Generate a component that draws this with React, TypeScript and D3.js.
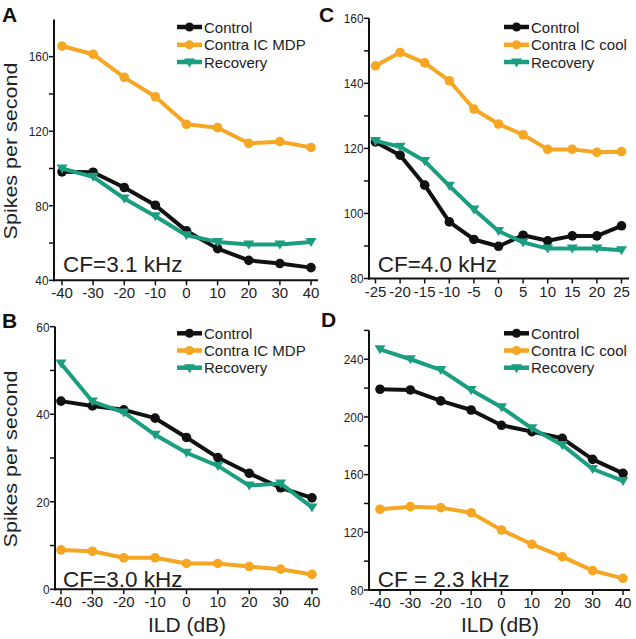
import React from "react";
import * as d3 from "d3";

// ---------- DATA ----------
const ild40 = [-40, -30, -20, -10, 0, 10, 20, 30, 40];
const ild25 = [-25, -20, -15, -10, -5, 0, 5, 10, 15, 20, 25];

// Panel A (CF=3.1 kHz)
const controlA = [98.2, 98, 89.8, 80.3, 66.5, 57, 50.7, 49, 46.8];
const mdpA = [165.7, 161.3, 148.9, 138.5, 123.7, 121.9, 113.5, 114.4, 111.3];
const recoveryA = [100, 95.5, 83.9, 74.4, 64.2, 60.6, 59.2, 59.2, 60.6];

// Panel B (CF=3.0 kHz)
const controlB = [43.0, 41.9, 41.0, 39.1, 34.7, 30.1, 26.5, 23.2, 20.9];
const mdpB = [9.0, 8.7, 7.2, 7.2, 5.9, 5.9, 5.2, 4.6, 3.4];
const recoveryB = [51.6, 42.9, 40.4, 35.3, 31.2, 28.2, 23.7, 24.2, 18.7];

// Panel C (CF=4.0 kHz)
const controlC = [122, 117.9, 108.7, 97.4, 92, 89.9, 93.3, 91.6, 93.1, 93.1, 96.2];
const coolC = [145.4, 149.5, 146.3, 140.8, 132.1, 127.5, 124.2, 119.7, 119.7, 118.8, 119];
const recoveryC = [122.3, 120.5, 116.1, 108.5, 101.2, 94.6, 91.1, 89.2, 89.2, 89.2, 88.7];

// Panel D (CF = 2.3 kHz)
const controlD = [219.2, 218.7, 211.1, 204.8, 194.2, 189.8, 185.2, 170.6, 160.9];
const coolD = [136, 137.8, 137.1, 133.6, 121.6, 111.7, 103.1, 93.4, 88.1];
const recoveryD = [246.9, 240, 232.6, 218.7, 206.7, 192.1, 180.6, 163.9, 155.6];

const seriesNamesMDP = ["Control", "Contra IC MDP", "Recovery"];
const seriesNamesCool = ["Control", "Contra IC cool", "Recovery"];

const yTicksA = [40, 80, 120, 160];
const yMinorA = [60, 100, 140];
const yTicksB = [0, 20, 40, 60];
const yMinorB = [10, 30, 50];
const yTicksC = [80, 100, 120, 140, 160];
const yMinorC = [90, 110, 130, 150];
const yTicksD = [80, 120, 160, 200, 240];
const yMinorD = [100, 140, 180, 220, 260];

// ---------- STYLE ----------
const FONT = "'Liberation Sans', Arial, Helvetica, sans-serif";
const BLACK = "#111111";
const ORANGE = "#F5A623";
const GREEN = "#1B9E80";

type PanelProps = {
  letter: string;
  letterPos: [number, number];
  xs: number[];
  xDomain: [number, number];
  xRange: [number, number];
  yDomain: [number, number];
  yRange: [number, number];
  yTicks: number[];
  yMinor: number[];
  axisX: number;
  axisXEnd: number;
  control: number[];
  treat: number[];
  recovery: number[];
  names: string[];
  cfText: string;
  cfPos: [number, number];
  legend: { x0: number; x1: number; tx: number; ys: number[] };
  ylabel?: [number, number];
  xlabel?: [number, number];
};

function Triangle({ x, y, color }: { x: number; y: number; color: string }) {
  const p = `M${x - 5.5},${y - 4}L${x + 5.5},${y - 4}L${x},${y + 5}Z`;
  return <path d={p} fill={color} />;
}

function Panel(p: PanelProps) {
  const x = d3.scaleLinear().domain(p.xDomain).range(p.xRange);
  const y = d3.scaleLinear().domain(p.yDomain).range(p.yRange);
  const line = d3
    .line<[number, number]>()
    .x((d) => x(d[0]))
    .y((d) => y(d[1]));
  const zip = (vals: number[]) => p.xs.map((v, i) => [v, vals[i]] as [number, number]);
  const axisY = y(p.yDomain[0]);
  const topY = y(p.yDomain[1]);
  const series = [
    { vals: p.treat, color: ORANGE, tri: false },
    { vals: p.control, color: BLACK, tri: false },
    { vals: p.recovery, color: GREEN, tri: true },
  ];
  const legendItems = [
    { name: p.names[0], color: BLACK, tri: false },
    { name: p.names[1], color: ORANGE, tri: false },
    { name: p.names[2], color: GREEN, tri: true },
  ];
  return (
    <g>
      {/* axes */}
      <line x1={p.axisX} x2={p.axisX} y1={topY} y2={axisY + 1} stroke={BLACK} strokeWidth={2} />
      <line x1={p.axisX - 1} x2={p.axisXEnd} y1={axisY} y2={axisY} stroke={BLACK} strokeWidth={2} />
      {p.yTicks.map((t) => (
        <g key={"yt" + t}>
          <line x1={p.axisX - 5} x2={p.axisX} y1={y(t)} y2={y(t)} stroke={BLACK} strokeWidth={1.5} />
          <text
            transform={`translate(${p.axisX - 5.5},${y(t) + 4.8}) scale(0.88,1)`}
            textAnchor="end"
            fontSize={13.5}
            fontFamily={FONT}
            fill="#222"
          >
            {t}
          </text>
        </g>
      ))}
      {p.yMinor.map((t) => (
        <line key={"ym" + t} x1={p.axisX - 5} x2={p.axisX} y1={y(t)} y2={y(t)} stroke={BLACK} strokeWidth={1.5} />
      ))}
      {p.xs.map((t) => (
        <g key={"xt" + t}>
          <line x1={x(t)} x2={x(t)} y1={axisY} y2={axisY + 5} stroke={BLACK} strokeWidth={1.5} />
          <text x={x(t)} y={axisY + 18} textAnchor="middle" fontSize={15} fontFamily={FONT} fill="#222">
            {t}
          </text>
        </g>
      ))}
      {/* series */}
      {series.map((s, i) => (
        <g key={"s" + i}>
          <path d={line(zip(s.vals)) || ""} fill="none" stroke={s.color} strokeWidth={4} strokeLinejoin="round" />
          {zip(s.vals).map((d, j) =>
            s.tri ? (
              <Triangle key={j} x={x(d[0])} y={y(d[1])} color={s.color} />
            ) : (
              <circle key={j} cx={x(d[0])} cy={y(d[1])} r={4.8} fill={s.color} />
            )
          )}
        </g>
      ))}
      {/* legend */}
      {legendItems.map((it, i) => {
        const cy = p.legend.ys[i];
        const cx = (p.legend.x0 + p.legend.x1) / 2;
        return (
          <g key={"lg" + i}>
            <line x1={p.legend.x0} x2={p.legend.x1} y1={cy} y2={cy} stroke={it.color} strokeWidth={4.5} />
            {it.tri ? <Triangle x={cx} y={cy + 0.5} color={it.color} /> : <circle cx={cx} cy={cy} r={4.5} fill={it.color} />}
            <text x={p.legend.tx} y={cy + 5.5} fontSize={15} fontFamily={FONT} fill="#222">
              {it.name}
            </text>
          </g>
        );
      })}
      {/* CF text */}
      <text x={p.cfPos[0]} y={p.cfPos[1]} fontSize={22.5} fontFamily={FONT} fill="#222">
        {p.cfText}
      </text>
      {/* panel letter */}
      <text x={p.letterPos[0]} y={p.letterPos[1]} fontSize={21} fontWeight="bold" fontFamily={FONT} fill="#111">
        {p.letter}
      </text>
      {p.ylabel && (
        <text
          transform={`translate(${p.ylabel[0]},${p.ylabel[1]}) rotate(-90) scale(1,0.85)`}
          textAnchor="middle"
          fontSize={21.5}
          fontFamily={FONT}
          fill="#222"
        >
          Spikes per second
        </text>
      )}
      {p.xlabel && (
        <text x={p.xlabel[0]} y={p.xlabel[1]} textAnchor="middle" fontSize={21} fontFamily={FONT} fill="#222">
          ILD (dB)
        </text>
      )}
    </g>
  );
}

export default function App() {
  return (
    <svg
      width={636}
      height={639}
      viewBox="0 0 636 639"
      style={{ position: "absolute", left: 0, top: 0, background: "#fff" }}
    >
      <rect width={636} height={639} fill="#fff" />
      <Panel
        letter="A"
        letterPos={[2, 22]}
        xs={ild40}
        xDomain={[-40, 40]}
        xRange={[62, 311]}
        yDomain={[40, 180]}
        yRange={[280.3, 19.4]}
        yTicks={yTicksA}
        yMinor={yMinorA}
        axisX={54}
        axisXEnd={318}
        control={controlA}
        treat={mdpA}
        recovery={recoveryA}
        names={seriesNamesMDP}
        cfText="CF=3.1 kHz"
        cfPos={[63, 271.7]}
        legend={{ x0: 177, x1: 202, tx: 204, ys: [27, 44.8, 62] }}
        ylabel={[17, 151]}
      />
      <Panel
        letter="C"
        letterPos={[319, 22]}
        xs={ild25}
        xDomain={[-25, 25]}
        xRange={[375.5, 621.5]}
        yDomain={[80, 160]}
        yRange={[278.5, 18.3]}
        yTicks={yTicksC}
        yMinor={yMinorC}
        axisX={369}
        axisXEnd={629}
        control={controlC}
        treat={coolC}
        recovery={recoveryC}
        names={seriesNamesCool}
        cfText="CF=4.0 kHz"
        cfPos={[377.7, 271.7]}
        legend={{ x0: 504, x1: 529, tx: 531, ys: [27, 44.8, 62] }}
      />
      <Panel
        letter="B"
        letterPos={[2, 328]}
        xs={ild40}
        xDomain={[-40, 40]}
        xRange={[61, 312]}
        yDomain={[0, 60]}
        yRange={[589.3, 326.7]}
        yTicks={yTicksB}
        yMinor={yMinorB}
        axisX={55}
        axisXEnd={318}
        control={controlB}
        treat={mdpB}
        recovery={recoveryB}
        names={seriesNamesMDP}
        cfText="CF=3.0 kHz"
        cfPos={[63, 587]}
        legend={{ x0: 177, x1: 202, tx: 204, ys: [333.3, 350.5, 367.7] }}
        ylabel={[17, 459]}
        xlabel={[187, 632]}
      />
      <Panel
        letter="D"
        letterPos={[321, 327]}
        xs={ild40}
        xDomain={[-40, 40]}
        xRange={[380, 623]}
        yDomain={[80, 260]}
        yRange={[590, 330.4]}
        yTicks={yTicksD}
        yMinor={yMinorD}
        axisX={369}
        axisXEnd={630}
        control={controlD}
        treat={coolD}
        recovery={recoveryD}
        names={seriesNamesCool}
        cfText="CF = 2.3 kHz"
        cfPos={[377.7, 587]}
        legend={{ x0: 504, x1: 529, tx: 531, ys: [333.3, 350.5, 367.7] }}
        xlabel={[500, 632]}
      />
    </svg>
  );
}
